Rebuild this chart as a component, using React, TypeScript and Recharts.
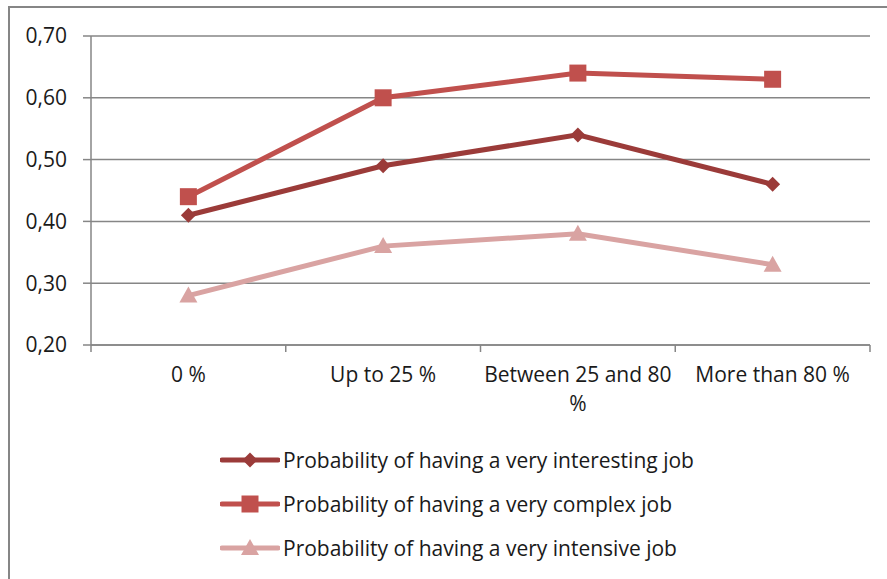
import React from 'react';
import { LineChart, Line, CartesianGrid, XAxis, YAxis, Legend } from 'recharts';

const categories = ['0 %', 'Up to 25 %', 'Between 25 and 80 %', 'More than 80 %'];
const interestingJob = [0.41, 0.49, 0.54, 0.46];
const complexJob = [0.44, 0.6, 0.64, 0.63];
const intensiveJob = [0.28, 0.36, 0.38, 0.33];
const yTicks = [0.2, 0.3, 0.4, 0.5, 0.6, 0.7];

const seriesNames = [
  'Probability of having a very interesting job',
  'Probability of having a very complex job',
  'Probability of having a very intensive job'
];

const colors = {
  interesting: '#9B3B39',
  complex: '#C0504D',
  intensive: '#D9A3A2',
  grid: '#868686',
  text: '#1a1a1a'
};

const FONT = '"Open Sans", sans-serif';
const FONT_SIZE = 21;

const CHART_W = 877;
const CHART_H = 571;
const MARGIN = { top: 28, right: 17, left: 0, bottom: 0 };
const Y_AXIS_W = 81;
const BAND = (CHART_W - MARGIN.right - MARGIN.left - Y_AXIS_W) / categories.length;

const data = categories.map((name, i) => ({
  name,
  interesting: interestingJob[i],
  complex: complexJob[i],
  intensive: intensiveJob[i]
}));

type MarkerKind = 'diamond' | 'square' | 'triangle';

const markerPath = (kind: MarkerKind, cx: number, cy: number) => {
  if (kind === 'diamond') {
    const r = 7.5;
    return `M${cx},${cy - r}L${cx + r},${cy}L${cx},${cy + r}L${cx - r},${cy}Z`;
  }
  if (kind === 'square') {
    const r = 8.5;
    return `M${cx - r},${cy - r}H${cx + r}V${cy + r}H${cx - r}Z`;
  }
  const r = 9;
  return `M${cx},${cy - r}L${cx + r},${cy + 7}L${cx - r},${cy + 7}Z`;
};

const makeDot = (kind: MarkerKind, fill: string) => (props: any) => {
  const { cx, cy, index } = props;
  if (cx == null || cy == null) return <g key={`e-${index}`} />;
  return <path key={`${kind}-${index}`} d={markerPath(kind, cx, cy)} fill={fill} />;
};

// greedy word wrap, measured with a canvas so it follows the real font
let measureCtx: CanvasRenderingContext2D | null = null;
const measure = (s: string) => {
  if (!measureCtx) {
    measureCtx = document.createElement('canvas').getContext('2d');
    if (measureCtx) measureCtx.font = `${FONT_SIZE}px ${FONT}`;
  }
  return measureCtx ? measureCtx.measureText(s).width : s.length * FONT_SIZE * 0.52;
};

const wrap = (label: string, maxWidth: number) => {
  const lines: string[] = [];
  let cur = '';
  label.split(' ').forEach((w) => {
    const next = cur ? `${cur} ${w}` : w;
    if (cur && measure(next) > maxWidth) {
      lines.push(cur);
      cur = w;
    } else {
      cur = next;
    }
  });
  if (cur) lines.push(cur);
  return lines;
};

const CategoryTick = (props: any) => {
  const { x, y, payload, index } = props;
  const last = index === categories.length - 1;
  const lines = wrap(String(payload.value), BAND - 6);
  return (
    <g>
      <line x1={x - BAND / 2} y1={y} x2={x - BAND / 2} y2={y + 7} stroke={colors.grid} strokeWidth={1.5} />
      {last && (
        <line x1={x + BAND / 2} y1={y} x2={x + BAND / 2} y2={y + 7} stroke={colors.grid} strokeWidth={1.5} />
      )}
      <text x={x} y={y + 37} textAnchor="middle" fontSize={FONT_SIZE} fontFamily={FONT} fill={colors.text}>
        {lines.map((line, i) => (
          <tspan key={i} x={x} dy={i === 0 ? 0 : 29}>
            {line}
          </tspan>
        ))}
      </text>
    </g>
  );
};

const legendItems: { name: string; color: string; kind: MarkerKind }[] = [
  { name: seriesNames[0], color: colors.interesting, kind: 'diamond' },
  { name: seriesNames[1], color: colors.complex, kind: 'square' },
  { name: seriesNames[2], color: colors.intensive, kind: 'triangle' }
];

const LegendContent = () => (
  <div style={{ fontFamily: FONT, fontSize: FONT_SIZE, color: colors.text }}>
    {legendItems.map((item) => (
      <div key={item.name} style={{ display: 'flex', alignItems: 'center', height: 44, whiteSpace: 'nowrap' }}>
        <svg width={60} height={24} style={{ marginRight: 3, flexShrink: 0 }}>
          <line x1={2} y1={12} x2={58} y2={12} stroke={item.color} strokeWidth={5} strokeLinecap="round" />
          <path d={markerPath(item.kind, 30, 12)} fill={item.color} />
        </svg>
        <span>{item.name}</span>
      </div>
    ))}
  </div>
);

export default function App() {
  return (
    <div style={{ position: 'absolute', left: 0, top: 0, width: 887, height: 579, overflow: 'hidden', background: '#fff' }}>
      <div
        style={{
          position: 'absolute',
          left: 8,
          top: 6,
          width: 900,
          height: 600,
          border: `2px solid ${colors.grid}`,
          boxSizing: 'border-box'
        }}
      >
        <LineChart width={CHART_W} height={CHART_H} data={data} margin={MARGIN}>
          <CartesianGrid vertical={false} stroke={colors.grid} strokeWidth={1.5} />
          <XAxis
            dataKey="name"
            scale="band"
            axisLine={{ stroke: colors.grid, strokeWidth: 1.5 }}
            tickLine={false}
            tickSize={0}
            tickMargin={0}
            interval={0}
            height={84}
            tick={<CategoryTick />}
          />
          <YAxis
            domain={[0.2, 0.7]}
            ticks={yTicks}
            width={Y_AXIS_W}
            axisLine={{ stroke: colors.grid, strokeWidth: 1.5 }}
            tickLine={{ stroke: colors.grid, strokeWidth: 1.5 }}
            tickSize={8}
            tickMargin={16}
            tickFormatter={(v: number) => v.toFixed(2).replace('.', ',')}
            tick={{ fontSize: FONT_SIZE, fontFamily: FONT, fill: colors.text }}
          />
          <Legend
            verticalAlign="bottom"
            content={<LegendContent />}
            wrapperStyle={{ left: 210, top: 430, width: 560, height: 150 }}
          />
          <Line
            dataKey="interesting"
            name={seriesNames[0]}
            stroke={colors.interesting}
            strokeWidth={5}
            dot={makeDot('diamond', colors.interesting)}
            activeDot={false}
            isAnimationActive={false}
          />
          <Line
            dataKey="complex"
            name={seriesNames[1]}
            stroke={colors.complex}
            strokeWidth={5}
            dot={makeDot('square', colors.complex)}
            activeDot={false}
            isAnimationActive={false}
          />
          <Line
            dataKey="intensive"
            name={seriesNames[2]}
            stroke={colors.intensive}
            strokeWidth={5}
            dot={makeDot('triangle', colors.intensive)}
            activeDot={false}
            isAnimationActive={false}
          />
        </LineChart>
      </div>
    </div>
  );
}
